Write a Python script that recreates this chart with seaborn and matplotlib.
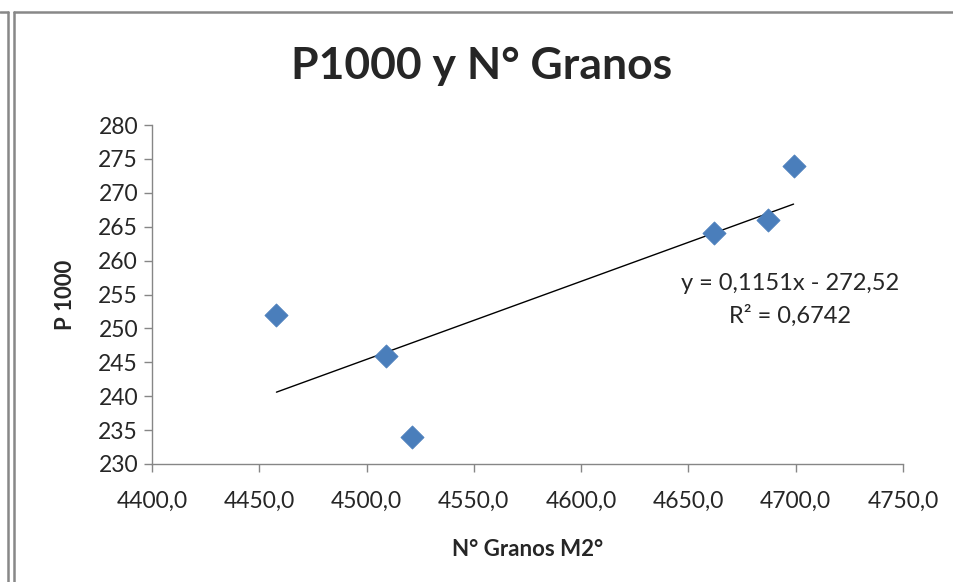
import numpy as np
import pandas as pd
import matplotlib
matplotlib.use("Agg")
import matplotlib.pyplot as plt
from matplotlib.lines import Line2D
import seaborn as sns

# Data
granos = [4458.0, 4509.0, 4521.0, 4662.0, 4687.0, 4699.0]
p1000 = [252.0, 246.0, 234.0, 264.0, 266.0, 274.0]
slope = 0.1151
intercept = -272.52
r2 = 0.6742
x_ticks = [4400, 4450, 4500, 4550, 4600, 4650, 4700, 4750]
y_ticks = [230, 235, 240, 245, 250, 255, 260, 265, 270, 275, 280]

sns.set_theme(style="white")
plt.rcParams['font.family'] = ['Lato', 'DejaVu Sans']

W, H = 954, 582
fig = plt.figure(figsize=(W / 100, H / 100), dpi=100)
ax = fig.add_axes([152 / W, 1 - 464 / H, (903 - 152) / W, (464 - 125) / H])

df = pd.DataFrame({"x": granos, "y": p1000})
sns.scatterplot(data=df, x="x", y="y", ax=ax, marker="D", s=140,
                color="#4A7EBB", edgecolor="#4A7EBB", linewidth=0.5, zorder=3)

xl = np.array([min(granos), max(granos)])
trend = pd.DataFrame({"x": xl, "y": slope * xl + intercept})
sns.lineplot(data=trend, x="x", y="y", ax=ax, color="black", linewidth=1.0, zorder=2)

ax.set_xlim(4400, 4750)
ax.set_ylim(230, 280)
ax.set_xticks(x_ticks)
ax.set_yticks(y_ticks)
ax.set_xticklabels([f"{v:.1f}".replace(".", ",") for v in x_ticks], fontsize=16.5)
ax.set_yticklabels([str(v) for v in y_ticks], fontsize=16.5)
ax.tick_params(axis="both", direction="out", length=6, width=1, color="#868686",
               bottom=True, left=True)
ax.tick_params(axis="x", pad=13)
ax.tick_params(axis="y", pad=4)
for side in ["top", "right"]:
    ax.spines[side].set_visible(False)
for side in ["left", "bottom"]:
    ax.spines[side].set_color("#868686")
    ax.spines[side].set_linewidth(1)

ax.set_xlabel("N° Granos M2°", fontsize=16, fontweight="bold", labelpad=20)
ax.set_ylabel("P 1000", fontsize=16, fontweight="bold", labelpad=16)

fig.text(482 / W, 1 - 66 / H, "P1000 y N° Granos", ha="center", va="center",
         fontsize=32, fontweight="bold")

ax.text(790 / W, 1 - 283 / H, "y = 0,1151x - 272,52", transform=fig.transFigure,
        ha="center", va="center", fontsize=17)
ax.text(790 / W, 1 - 316 / H, "R² = 0,6742", transform=fig.transFigure,
        ha="center", va="center", fontsize=17)

# Frame lines
gc = "#888888"
fig.add_artist(Line2D([8 / W, 8 / W], [0, 1 - 12 / H], transform=fig.transFigure, color=gc, lw=1.8))
fig.add_artist(Line2D([14 / W, 14 / W], [0, 1 - 12 / H], transform=fig.transFigure, color=gc, lw=1.8))
fig.add_artist(Line2D([14 / W, 1], [1 - 12 / H, 1 - 12 / H], transform=fig.transFigure, color=gc, lw=1.8))
fig.add_artist(Line2D([0, 8 / W], [1 - 12 / H, 1 - 12 / H], transform=fig.transFigure, color=gc, lw=1.8))

fig.savefig("out.png", dpi=100)
